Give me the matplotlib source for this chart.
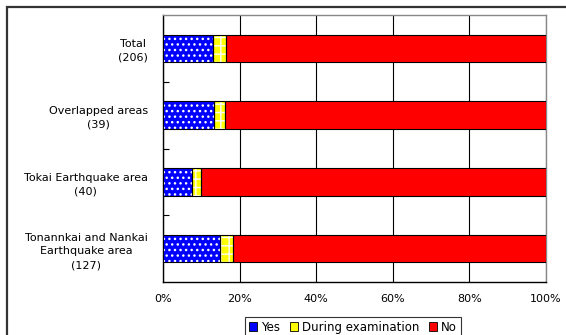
import matplotlib.pyplot as plt
from matplotlib.patches import Patch, Rectangle

# Share of responses per area (percent)
categories = ["Total\n(206)", "Overlapped areas\n(39)", "Tokai Earthquake area\n(40)",
              "Tonannkai and Nankai\nEarthquake area\n(127)"]
yes = [13.1, 13.4, 7.5, 14.8]
during = [3.4, 2.9, 2.5, 3.6]
no = [100 - a - b for a, b in zip(yes, during)]
series_names = ["Yes", "During examination", "No"]
tick_labels = ["0%", "20%", "40%", "60%", "80%", "100%"]

colors = ["#0000ff", "#ffff00", "#ff0000"]
hatches = ["...", "++", None]

fig = plt.figure(figsize=(5.66, 3.35), dpi=100)
ax = fig.add_axes([163 / 566, 1 - 282 / 335, 383 / 566, 267 / 335])

ypos = list(range(len(categories)))
left = [0] * len(categories)
for vals, col, hat in zip([yes, during, no], colors, hatches):
    if hat:
        ax.barh(ypos, vals, left=left, height=0.41, color=col,
                edgecolor="white", linewidth=0, hatch=hat, zorder=3)
        ax.barh(ypos, vals, left=left, height=0.41, fill=False,
                edgecolor="black", linewidth=0.8, zorder=4)
    else:
        ax.barh(ypos, vals, left=left, height=0.41, color=col,
                edgecolor="black", linewidth=0.8, zorder=3)
    left = [l + v for l, v in zip(left, vals)]

ax.set_xlim(0, 100)
ax.set_ylim(3.5, -0.5)
ax.set_xticks([0, 20, 40, 60, 80, 100])
ax.set_xticklabels(tick_labels, fontsize=8)
ax.tick_params(axis="x", length=0, pad=9)
ax.set_yticks(ypos)
ax.set_yticklabels(categories, fontsize=8, ha="right", multialignment="center",
                   linespacing=1.45)
ax.tick_params(axis="y", length=0, pad=11)
ax.set_yticks([0.5, 1.5, 2.5], minor=True)
ax.tick_params(axis="y", which="minor", direction="in", length=4, width=0.8)
ax.grid(axis="x", color="black", linewidth=0.8, zorder=1)

for side in ["top", "right"]:
    ax.spines[side].set_color("#888888")
    ax.spines[side].set_linewidth(1.0)
for side in ["left", "bottom"]:
    ax.spines[side].set_color("black")
    ax.spines[side].set_linewidth(1.0)

handles = [Patch(facecolor=c, edgecolor="black", linewidth=0.6) for c in colors]
leg = fig.legend(handles, series_names, loc="upper center", ncol=3,
                 bbox_to_anchor=(353 / 566, 1 - 317 / 335), fontsize=8.5,
                 frameon=True, fancybox=False, handlelength=0.7, handleheight=0.7,
                 handletextpad=0.35, columnspacing=0.8, borderpad=0.3,
                 borderaxespad=0)
leg.get_frame().set_edgecolor("black")
leg.get_frame().set_linewidth(0.8)

# outer chart border
fig.patches.append(Rectangle((6.5 / 566, -0.05), 1.1, 1 - 6.5 / 335 + 0.05,
                             transform=fig.transFigure, fill=False,
                             edgecolor="#333333", linewidth=1.6))

fig.savefig("out.png", dpi=100)
